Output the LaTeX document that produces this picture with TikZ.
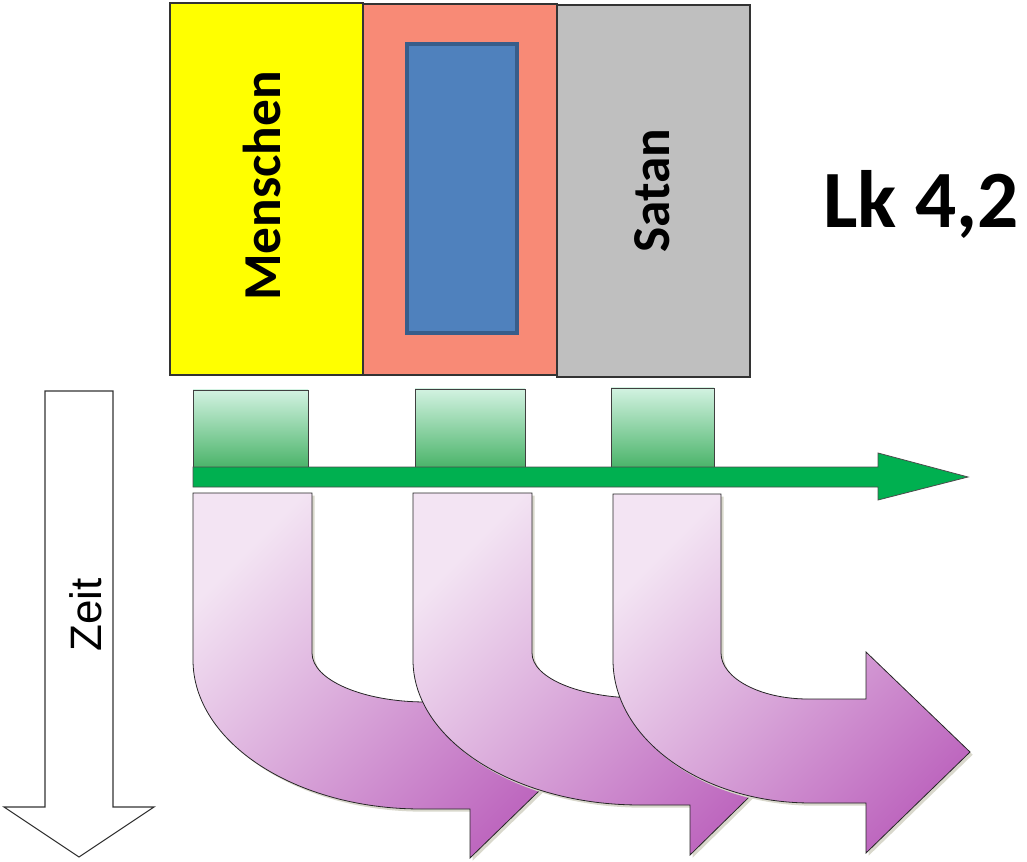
\documentclass[tikz,border=0pt]{standalone}
\usepackage{fontspec}
\setmainfont{Carlito}
\newfontfamily\arialf{Liberation Sans}
\definecolor{salmon}{HTML}{F88A76}
\definecolor{grayb}{HTML}{BFBFBF}
\definecolor{yellowb}{HTML}{FFFF00}
\definecolor{bluef}{HTML}{4F81BD}
\definecolor{blued}{HTML}{385D8A}
\definecolor{gtop}{HTML}{D2F2E1}
\definecolor{gbot}{HTML}{4BB46A}
\definecolor{garrowc}{HTML}{00B050}
\definecolor{ptop}{HTML}{F3E4F3}
\definecolor{pbot}{HTML}{BE68BF}
\definecolor{shadowc}{HTML}{D9D8CC}
\begin{document}
\begin{tikzpicture}[x=0.75pt,y=-0.75pt,line join=miter,
  topbox/.style={draw=black!80,line width=0.8pt,inner sep=0pt,outer sep=0pt,anchor=north west},
  gbox/.style={draw=black!75,line width=0.6pt,top color=gtop,bottom color=gbot,inner sep=0pt,outer sep=0pt,anchor=north west},
  lbl/.style={font=\bfseries\fontsize{40}{42}\selectfont,rotate=90,inner sep=0pt},
  parrow/.style={draw=black!85,line width=0.6pt,shading=axis,top color=ptop,bottom color=pbot,shading angle=45,
     preaction={fill=shadowc,transform canvas={xshift=2pt,yshift=-2pt}}},
  garrow/.style={draw=black!70,line width=0.6pt,fill=garrowc},
  zarrow/.style={draw=black!80,line width=0.8pt,fill=white}]
\useasboundingbox (0,0) rectangle (1027,862);
% top boxes
\node[topbox,fill=yellowb,minimum width=144.75pt,minimum height=279pt] (men) at (170,3) {};
\node[topbox,fill=salmon,minimum width=145.5pt,minimum height=278.25pt] (mid) at (363,4) {};
\node[topbox,fill=grayb,minimum width=144.75pt,minimum height=279pt] (sat) at (557,5) {};
\node[topbox,fill=bluef,draw=blued,line width=2.4pt,minimum width=82.5pt,minimum height=216.75pt] (blue) at (407,44) {};
\node[lbl] (menl) at (262,186) {Menschen};
\node[lbl] (satl) at (652,191) {Satan};
\node[font=\bfseries\fontsize{61}{61}\selectfont,anchor=base,inner sep=0pt] (lk) at (921,228) {Lk 4,2};
% time arrow
\draw[zarrow] (45,391) -- (113,391) -- (113,807) -- (154,807) -- (79,857) -- (4,807) -- (45,807) -- cycle;
\node[rotate=90,font=\arialf\fontsize{33}{33}\selectfont,inner sep=0pt] (zeit) at (86,615) {Zeit};
% green boxes
\node[gbox,minimum width=86.25pt,minimum height=57.75pt] (g1) at (193,390) {};
\node[gbox,minimum width=82.5pt,minimum height=58.5pt] (g2) at (415,389) {};
\node[gbox,minimum width=77.25pt,minimum height=59.25pt] (g3) at (611,388) {};
% green arrow
\draw[garrow] (193,467) -- (878,467) -- (878,453) -- (968,477) -- (878,500) -- (878,487) -- (193,487) -- cycle;
% purple bent arrows
\path[parrow] (193,493) -- (312,493) -- (312,653) .. controls (312,680) and (363,702) .. (426,702)
  -- (470,702) -- (470,656) -- (574,757) -- (470,858) -- (470,809) -- (421,809)
  .. controls (295,809) and (193,742) .. (193,660) -- cycle;
\path[parrow] (413,493) -- (532,493) -- (532,653) .. controls (532,678) and (580,698) .. (640,698)
  -- (690,698) -- (690,651) -- (794,753) -- (690,855) -- (690,805) -- (640,805)
  .. controls (515,805) and (413,740) .. (413,660) -- cycle;
\path[parrow] (613,494) -- (721,494) -- (721,653) .. controls (721,678) and (760,699) .. (808,699)
  -- (866,699) -- (866,652) -- (970,752) -- (866,853) -- (866,803) -- (811,803)
  .. controls (702,803) and (613,739) .. (613,660) -- cycle;
\end{tikzpicture}
\end{document}
